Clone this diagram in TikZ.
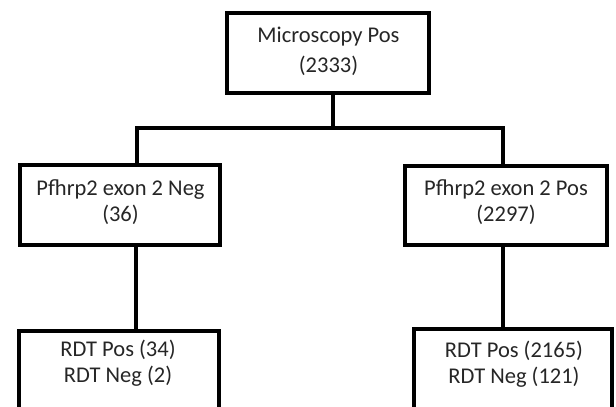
\documentclass[tikz,border=0pt]{standalone}
\usepackage{fontspec}
\setmainfont{Carlito}
\definecolor{txt}{RGB}{38,38,38}
\begin{document}
\begin{tikzpicture}[x=1pt,y=-1pt,
  box/.style={draw=black, line width=3.6pt, inner sep=0pt, rectangle},
  conn/.style={draw=black, line width=3.6pt},
  lbl/.style={font=\fontsize{22.5}{27}\selectfont, text=txt, anchor=base, inner sep=0pt}]
\clip (0,0) rectangle (616,407);
\node[box, minimum width=202pt, minimum height=80pt] (top) at (328,53) {};
\node[box, minimum width=200pt, minimum height=80pt] (ml) at (120,205) {};
\node[box, minimum width=202pt, minimum height=79pt] (mr) at (506,205.5) {};
\node[box, minimum width=200pt, minimum height=120pt, anchor=north] (bl) at (119,329) {};
\node[box, minimum width=198pt, minimum height=120pt, anchor=north] (br) at (513,327) {};
\node[lbl] (t1) at (328.5,42) {Microscopy Pos};
\node[lbl] (t2) at (328.5,72) {(2333)};
\node[lbl] (t3) at (120.5,195) {Pfhrp2 exon 2 Neg};
\node[lbl] (t4) at (120.5,221) {(36)};
\node[lbl] (t5) at (506,195) {Pfhrp2 exon 2 Pos};
\node[lbl] (t6) at (506,221) {(2297)};
\node[lbl] (t7) at (118,356) {RDT Pos (34)};
\node[lbl] (t8) at (118,382) {RDT Neg (2)};
\node[lbl] (t9) at (514,357) {RDT Pos (2165)};
\node[lbl] (t10) at (514,383) {RDT Neg (121)};
\coordinate (j) at (333,128);
\coordinate (jl) at (137,128);
\coordinate (jr) at (503,128);
\coordinate (cl) at (136,0);
\draw[conn] (top.south -| j) -- (j);
\draw[conn] (ml.north -| jl) -- (jl) -- (jr) -- (mr.north -| jr);
\draw[conn] (ml.south -| cl) -- (bl.north -| cl);
\draw[conn] (mr.south -| jr) -- (br.north -| jr);
\end{tikzpicture}
\end{document}
